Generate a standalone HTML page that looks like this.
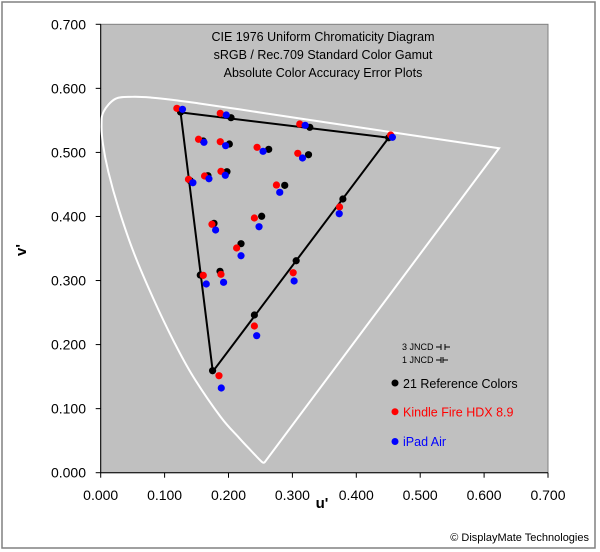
<!DOCTYPE html>
<html><head><meta charset="utf-8"><style>
html,body{margin:0;padding:0;background:#fff;}
svg{display:block;font-family:"Liberation Sans",Arial,sans-serif;}
</style></head><body>
<svg id="chart" width="600" height="552" viewBox="0 0 600 552" xmlns="http://www.w3.org/2000/svg">
<rect x="2" y="2" width="593" height="546" fill="#fff" stroke="#808080" stroke-width="1.5"/>
<rect x="100.7" y="24.3" width="447.3" height="448.4" fill="#c0c0c0" stroke="#808080" stroke-width="1"/>
<g id="axes"></g>
<g id="marks"></g>
<g font-size="12.5" text-anchor="middle" fill="#000">
<text x="323" y="41">CIE 1976 Uniform Chromaticity Diagram</text>
<text x="323" y="59">sRGB / Rec.709 Standard Color Gamut</text>
<text x="323" y="77">Absolute Color Accuracy Error Plots</text>
</g>
<text x="322" y="508" font-size="15" font-weight="bold" text-anchor="middle">u'</text>
<text x="0" y="0" font-size="15" font-weight="bold" text-anchor="middle" transform="translate(26,250) rotate(-90)">v'</text>
<g>
<text x="402" y="350" font-size="9">3 JNCD</text>
<g stroke="#000" stroke-width="1">
<line x1="436" y1="347" x2="441" y2="347"/><line x1="441" y1="344" x2="441" y2="350"/>
<line x1="445" y1="344" x2="445" y2="350"/><line x1="445" y1="347" x2="450" y2="347"/></g>
<text x="402" y="363" font-size="9">1 JNCD</text>
<g stroke="#000" stroke-width="1">
<line x1="436" y1="360" x2="441" y2="360"/><line x1="441" y1="357" x2="441" y2="363"/>
<line x1="443" y1="357" x2="443" y2="363"/><line x1="443" y1="360" x2="448" y2="360"/></g>
<circle cx="395" cy="383" r="3.5" fill="#000"/>
<text x="403" y="388" font-size="12.5" fill="#000">21 Reference Colors</text>
<circle cx="395" cy="411.7" r="3.5" fill="#ff0000"/>
<text x="403" y="416.5" font-size="12.5" fill="#ff0000">Kindle Fire HDX 8.9</text>
<circle cx="395" cy="441.5" r="3.5" fill="#0000ff"/>
<text x="403" y="446" font-size="12.5" fill="#0000ff">iPad Air</text>
</g>
<text x="589" y="541" font-size="11" text-anchor="end">© DisplayMate Technologies</text>
</svg>
<script>
const xTicks = ["0.000","0.100","0.200","0.300","0.400","0.500","0.600","0.700"];
const yTicks = ["0.000","0.100","0.200","0.300","0.400","0.500","0.600","0.700"];
const locusU = [0.2568,0.2522,0.2347,0.2161,0.1877,0.1441,0.1147,0.0828,0.0521,0.0282,0.0119,0.0035,0.0014,0.0046,0.0231,0.0501,0.0792,0.1127,0.1531,0.2026,0.2623,0.4035,0.5203,0.6234];
const locusV = [0.0166,0.0169,0.0350,0.0549,0.0871,0.1510,0.2044,0.2708,0.3427,0.4117,0.4699,0.5131,0.5431,0.5638,0.5837,0.5868,0.5856,0.5821,0.5766,0.5694,0.5604,0.5393,0.5219,0.5065];
const gamutU = [0.4507,0.1250,0.1754];
const gamutV = [0.5229,0.5625,0.1579];
const refU = [0.125,0.2039,0.3272,0.4507,0.1605,0.2013,0.2629,0.3252,0.1401,0.1678,0.1976,0.2880,0.3790,0.1773,0.2519,0.2196,0.3059,0.1558,0.1867,0.2405,0.1751];
const refV = [0.563,0.5542,0.5392,0.5229,0.5178,0.5131,0.5048,0.4964,0.4558,0.4636,0.4699,0.4486,0.4273,0.3893,0.4003,0.3575,0.3309,0.3086,0.3144,0.2462,0.1592];
const kindleU = [0.1192,0.1871,0.3115,0.4538,0.1531,0.1871,0.2447,0.3084,0.1374,0.1625,0.1882,0.2750,0.3738,0.1741,0.2405,0.2127,0.3012,0.1605,0.1882,0.2405,0.1851];
const kindleV = [0.5688,0.5610,0.5443,0.5272,0.5205,0.5167,0.5080,0.4986,0.4580,0.4632,0.4705,0.4491,0.4148,0.3878,0.3976,0.3508,0.3122,0.3081,0.3097,0.2290,0.1514];
const ipadU = [0.1280,0.1965,0.3200,0.4565,0.1616,0.1955,0.2541,0.3158,0.1443,0.1694,0.1950,0.2802,0.3733,0.1798,0.2478,0.2196,0.3027,0.1652,0.1923,0.2441,0.1887];
const ipadV = [0.5673,0.5584,0.5423,0.5236,0.5158,0.5105,0.5017,0.4913,0.4527,0.4589,0.4643,0.4377,0.4043,0.3789,0.3840,0.3387,0.2993,0.2946,0.2972,0.2139,0.1322];

const X0=100.7, X1=548, Y0=472.7, Y1=24.3;
function sx(u){return X0+(u/0.7)*(X1-X0);}
function sy(v){return Y0-(v/0.7)*(Y0-Y1);}
const NS="http://www.w3.org/2000/svg";
const axes=document.getElementById('axes'), marks=document.getElementById('marks');
function mk(tag,attrs,parent){const e=document.createElementNS(NS,tag);for(const k in attrs)e.setAttribute(k,attrs[k]);parent.appendChild(e);return e;}

xTicks.forEach((t,i)=>{const x=sx(parseFloat(t));
 const l=mk('line',{x1:x,y1:Y0,x2:x,y2:Y0+5,stroke:'#000'},axes);
 
 
 const tx=mk('text',{x:x,y:500,'font-size':14,'text-anchor':'middle'},axes);tx.textContent=t;
 
 
});
yTicks.forEach((t,i)=>{const y=sy(parseFloat(t));
 const l=mk('line',{x1:X0-5,y1:y,x2:X0,y2:y,stroke:'#000'},axes);
 
 
 const tx=mk('text',{x:86,y:y+5,'font-size':14,'text-anchor':'end'},axes);tx.textContent=t;
 
 
});
mk('line',{x1:X0,y1:Y0,x2:X1,y2:Y0,stroke:'#000'},axes);
mk('line',{x1:X0,y1:Y0,x2:X0,y2:Y1,stroke:'#000'},axes);

const pts=locusU.map((u,i)=>[sx(u),sy(locusV[i])]);
let d='M'+pts[0][0]+','+pts[0][1];
for(let i=0;i<pts.length-1;i++){const p0=pts[Math.max(i-1,0)],p1=pts[i],p2=pts[i+1],p3=pts[Math.min(i+2,pts.length-1)];
 d+=' C'+(p1[0]+(p2[0]-p0[0])/6)+','+(p1[1]+(p2[1]-p0[1])/6)+' '+(p2[0]-(p3[0]-p1[0])/6)+','+(p2[1]-(p3[1]-p1[1])/6)+' '+p2[0]+','+p2[1];}
d+=' Z';
const loc=mk('path',{d:d,fill:'none',stroke:'#fff','stroke-width':2},marks);



const tri=mk('polygon',{points:gamutU.map((u,i)=>sx(u)+','+sy(gamutV[i])).join(' '),fill:'none',stroke:'#000','stroke-width':2},marks);



function series(U,V,color,name){U.forEach((u,i)=>{const c=mk('circle',{cx:sx(u),cy:sy(V[i]),r:3.6,fill:color},marks);
 
 });}
series(refU,refV,'#000','reference-point');
series(kindleU,kindleV,'#ff0000','kindle-point');
series(ipadU,ipadV,'#0000ff','ipad-point');
</script>
</body></html>
